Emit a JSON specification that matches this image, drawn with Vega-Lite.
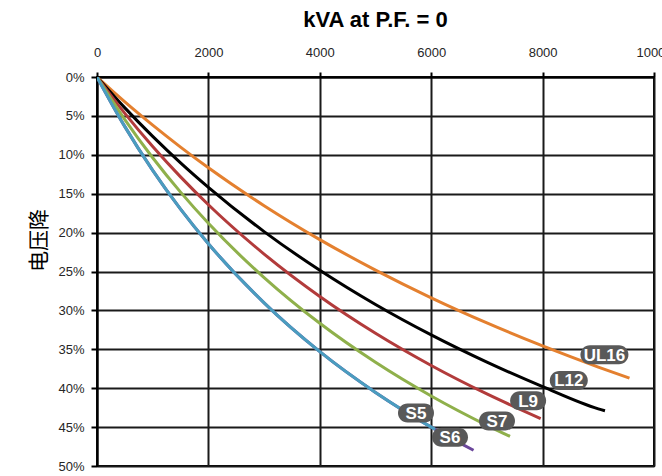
{
  "$schema": "https://vega.github.io/schema/vega-lite/v6.json",
  "width": 557,
  "height": 389,
  "autosize": {"type": "none"},
  "padding": {"left": 97, "top": 77, "right": 8, "bottom": 10},
  "background": "white",
  "title": {"text": "kVA at P.F. = 0", "font": "Liberation Sans", "fontSize": 22, "fontWeight": "bold", "color": "#000000", "anchor": "middle", "offset": 14},
  "config": {
    "view": {"stroke": "#000000", "strokeWidth": 2},
    "axis": {
      "labelFont": "Liberation Sans",
      "labelFontSize": 13,
      "labelColor": "#262626",
      "gridColor": "#1a1a1a",
      "gridWidth": 2,
      "gridOpacity": 1,
      "domainColor": "#000000",
      "domainWidth": 2,
      "tickColor": "#000000",
      "tickWidth": 2
    }
  },
  "datasets": {
    "lines": [
      {"s": "S6", "k": 0, "d": 0}, {"s": "S6", "k": 500, "d": 6.38}, {"s": "S6", "k": 1000, "d": 12.0}, {"s": "S6", "k": 1500, "d": 16.98}, {"s": "S6", "k": 2000, "d": 21.43}, {"s": "S6", "k": 3000, "d": 29.03}, {"s": "S6", "k": 4000, "d": 35.3}, {"s": "S6", "k": 5000, "d": 40.54}, {"s": "S6", "k": 6000, "d": 45.0}, {"s": "S6", "k": 6500, "d": 46.99}, {"s": "S6", "k": 6760, "d": 47.97},
      {"s": "UL16", "k": 0, "d": 0}, {"s": "UL16", "k": 500, "d": 3.2}, {"s": "UL16", "k": 1000, "d": 6.19}, {"s": "UL16", "k": 1500, "d": 9.01}, {"s": "UL16", "k": 2000, "d": 11.67}, {"s": "UL16", "k": 3000, "d": 16.54}, {"s": "UL16", "k": 4000, "d": 20.9}, {"s": "UL16", "k": 5000, "d": 24.82}, {"s": "UL16", "k": 6000, "d": 28.38}, {"s": "UL16", "k": 7000, "d": 31.61}, {"s": "UL16", "k": 8000, "d": 34.57}, {"s": "UL16", "k": 9000, "d": 37.28}, {"s": "UL16", "k": 9560, "d": 38.7},
      {"s": "L12", "k": 0, "d": 0}, {"s": "L12", "k": 500, "d": 3.97}, {"s": "L12", "k": 1000, "d": 7.63}, {"s": "L12", "k": 1500, "d": 11.03}, {"s": "L12", "k": 2000, "d": 14.18}, {"s": "L12", "k": 3000, "d": 19.87}, {"s": "L12", "k": 4000, "d": 24.84}, {"s": "L12", "k": 5000, "d": 29.24}, {"s": "L12", "k": 6000, "d": 33.15}, {"s": "L12", "k": 7000, "d": 36.65}, {"s": "L12", "k": 8000, "d": 39.8}, {"s": "L12", "k": 9000, "d": 42.65}, {"s": "L12", "k": 9120, "d": 42.9},
      {"s": "L9", "k": 0, "d": 0}, {"s": "L9", "k": 500, "d": 4.68}, {"s": "L9", "k": 1000, "d": 8.94}, {"s": "L9", "k": 1500, "d": 12.84}, {"s": "L9", "k": 2000, "d": 16.42}, {"s": "L9", "k": 3000, "d": 22.76}, {"s": "L9", "k": 4000, "d": 28.21}, {"s": "L9", "k": 5000, "d": 32.94}, {"s": "L9", "k": 6000, "d": 37.08}, {"s": "L9", "k": 7000, "d": 40.74}, {"s": "L9", "k": 7965, "d": 43.9},
      {"s": "S7", "k": 0, "d": 0}, {"s": "S7", "k": 500, "d": 5.47}, {"s": "S7", "k": 1000, "d": 10.38}, {"s": "S7", "k": 1500, "d": 14.8}, {"s": "S7", "k": 2000, "d": 18.81}, {"s": "S7", "k": 3000, "d": 25.78}, {"s": "S7", "k": 4000, "d": 31.66}, {"s": "S7", "k": 5000, "d": 36.67}, {"s": "S7", "k": 6000, "d": 41.0}, {"s": "S7", "k": 7000, "d": 44.77}, {"s": "S7", "k": 7415, "d": 46.2},
      {"s": "S5", "k": 0, "d": 0}, {"s": "S5", "k": 500, "d": 6.38}, {"s": "S5", "k": 1000, "d": 12.0}, {"s": "S5", "k": 1500, "d": 16.98}, {"s": "S5", "k": 2000, "d": 21.43}, {"s": "S5", "k": 3000, "d": 29.03}, {"s": "S5", "k": 4000, "d": 35.3}, {"s": "S5", "k": 5000, "d": 40.54}, {"s": "S5", "k": 6000, "d": 45.0}, {"s": "S5", "k": 6070, "d": 45.29}
    ],
    "labels": [
      {"s": "UL16", "k": 9110, "d": 35.7},
      {"s": "L12", "k": 8470, "d": 39.0},
      {"s": "L9", "k": 7740, "d": 41.6},
      {"s": "S7", "k": 7181, "d": 44.2},
      {"s": "S5", "k": 5727, "d": 43.2},
      {"s": "S6", "k": 6337, "d": 46.3}
    ]
  },
  "encoding": {
    "x": {
      "field": "k", "type": "quantitative",
      "scale": {"domain": [0, 10000], "nice": false},
      "axis": {"orient": "top", "values": [0, 2000, 4000, 6000, 8000, 10000], "format": "d", "title": null, "grid": true, "tickSize": 5, "labelPadding": 13, "labelFlush": false, "labelOverlap": false, "domain": true}
    },
    "y": {
      "field": "d", "type": "quantitative",
      "scale": {"domain": [0, 50], "reverse": true, "nice": false},
      "axis": {"values": [0, 5, 10, 15, 20, 25, 30, 35, 40, 45, 50], "labelExpr": "datum.value + '%'", "grid": true, "tickSize": 6, "labelPadding": 7, "title": "电压降", "titleFont": "Noto Sans CJK SC", "titleFontSize": 21, "titleFontWeight": "normal", "titleColor": "#000000", "titleAngle": -90, "titleX": -48, "titleY": 163, "titleAlign": "center", "titleBaseline": "bottom", "labelOverlap": false}
    }
  },
  "layer": [
    {
      "data": {"name": "lines"},
      "mark": {"type": "line", "strokeWidth": 3, "interpolate": "monotone", "clip": true},
      "encoding": {
        "color": {
          "field": "s", "type": "nominal",
          "scale": {"domain": ["S6", "UL16", "L12", "L9", "S7", "S5"], "range": ["#6b479b", "#e4802f", "#000000", "#b23b3b", "#8fb04b", "#4a9dbf"]},
          "legend": null
        }
      }
    },
    {
      "data": {"name": "labels"},
      "mark": {"type": "point", "filled": true, "fill": "#595959", "opacity": 1, "size": 400, "strokeWidth": 0},
      "encoding": {
        "shape": {
          "field": "s", "type": "nominal",
          "scale": {"domain": ["UL16", "L12", "L9", "S7", "S5", "S6"], "range": [
            "M-1.45,-0.95L1.45,-0.95A0.95,0.95,0,0,1,1.45,0.95L-1.45,0.95A0.95,0.95,0,0,1,-1.45,-0.95Z",
            "M-0.95,-0.95L0.95,-0.95A0.95,0.95,0,0,1,0.95,0.95L-0.95,0.95A0.95,0.95,0,0,1,-0.95,-0.95Z",
            "M-0.85,-0.95L0.85,-0.95A0.95,0.95,0,0,1,0.85,0.95L-0.85,0.95A0.95,0.95,0,0,1,-0.85,-0.95Z",
            "M-0.85,-0.95L0.85,-0.95A0.95,0.95,0,0,1,0.85,0.95L-0.85,0.95A0.95,0.95,0,0,1,-0.85,-0.95Z",
            "M-0.85,-0.95L0.85,-0.95A0.95,0.95,0,0,1,0.85,0.95L-0.85,0.95A0.95,0.95,0,0,1,-0.85,-0.95Z",
            "M-0.85,-0.95L0.85,-0.95A0.95,0.95,0,0,1,0.85,0.95L-0.85,0.95A0.95,0.95,0,0,1,-0.85,-0.95Z"
          ]},
          "legend": null
        }
      }
    },
    {
      "data": {"name": "labels"},
      "mark": {"type": "text", "font": "Liberation Sans", "fontSize": 17, "fontWeight": "bold", "color": "#ffffff", "align": "center", "baseline": "middle", "dy": 1},
      "encoding": {
        "text": {"field": "s", "type": "nominal"}
      }
    }
  ]
}
